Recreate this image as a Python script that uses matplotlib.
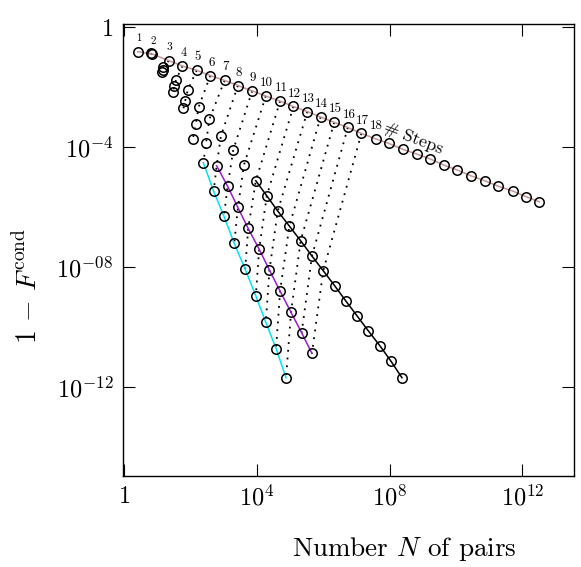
import matplotlib
matplotlib.use("Agg")
import matplotlib.pyplot as plt
import numpy as np

plt.rcParams["font.family"] = "serif"
plt.rcParams["font.serif"] = ["cmr10"]
plt.rcParams["mathtext.fontset"] = "cm"
plt.rcParams["axes.unicode_minus"] = False

# values, as log10 of N and log10 of 1-F
top_steps = list(range(1, 31))
top_logN = [0.41, 0.85, 1.35, 1.76, 2.19, 2.60, 3.03, 3.43, 3.86, 4.27,
            4.70, 5.10, 5.52, 5.92, 6.33, 6.74, 7.15, 7.58, 7.97, 8.40,
            8.82, 9.22, 9.64, 10.04, 10.44, 10.87, 11.27, 11.70, 12.11, 12.51]
top_logY = [-0.82, -0.90, -1.12, -1.30, -1.44, -1.62, -1.78, -1.95, -2.13, -2.30,
            -2.47, -2.65, -2.82, -3.00, -3.18, -3.35, -3.55, -3.73, -3.88, -4.08,
            -4.24, -4.40, -4.61, -4.77, -4.96, -5.13, -5.31, -5.47, -5.66, -5.83]

# black series, steps 2..24
blk_steps = list(range(2, 25))
blk_logN = [0.80, 1.18, 1.57, 1.92, 2.25, 2.57, 2.92, 3.29, 3.61, 3.97, 4.30, 4.63,
            4.98, 5.32, 5.66, 6.00, 6.35, 6.68, 7.02, 7.36, 7.71, 8.04, 8.37]
blk_logY = [-0.88, -1.33, -1.75, -2.10, -2.66, -3.08, -3.63, -4.10, -4.61, -5.13, -5.63, -6.14,
            -6.64, -7.13, -7.64, -8.13, -8.64, -9.14, -9.64, -10.14, -10.64, -11.15, -11.70]

# purple series, steps 3..17
pur_steps = list(range(3, 18))
pur_logN = [1.17, 1.52, 1.84, 2.16, 2.47, 2.79, 3.12, 3.43, 3.74, 4.07, 4.38,
            4.70, 5.03, 5.35, 5.66]
pur_logY = [-1.42, -1.96, -2.47, -3.25, -3.88, -4.63, -5.31, -6.02, -6.72, -7.41, -8.11,
            -8.81, -9.52, -10.20, -10.89]

# cyan series, steps 3..15
cyn_steps = list(range(3, 16))
cyn_logN = [1.15, 1.47, 1.79, 2.07, 2.39, 2.70, 3.01, 3.32, 3.65, 3.97, 4.27, 4.58, 4.88]
cyn_logY = [-1.50, -2.16, -2.71, -3.75, -4.53, -5.48, -6.31, -7.22, -8.08, -8.97, -9.85,
            -10.73, -11.70]

labelled_steps = list(range(1, 19))
dotted_steps = list(range(2, 18))

xticks = [1, 1e4, 1e8, 1e12]
xticklabels = ["$1$", "$10^{4}$", "$10^{8}$", "$10^{12}$"]
yticks = [1, 1e-4, 1e-8, 1e-12]
yticklabels = ["$1$", "$10^{-4}$", "$10^{-08}$", "$10^{-12}$"]


def to_xy(steps, logN, logY):
    return dict(zip(steps, zip(10 ** np.array(logN), 10 ** np.array(logY))))


top = to_xy(top_steps, top_logN, top_logY)
blk = to_xy(blk_steps, blk_logN, blk_logY)
pur = to_xy(pur_steps, pur_logN, pur_logY)
cyn = to_xy(cyn_steps, cyn_logN, cyn_logY)

fig = plt.figure(figsize=(5.81, 5.67), dpi=100)
ax = fig.add_axes([0.2117, 0.161, 0.7762, 0.796])
ax.set_xscale("log")
ax.set_yscale("log")

# dotted lines joining equal step counts
for k in dotted_steps:
    pts = [d[k] for d in (top, blk, pur, cyn) if k in d]
    ax.plot([p[0] for p in pts], [p[1] for p in pts], color="black",
            lw=1.3, ls=(0, (1.0, 3.3)), zorder=1)

mk = dict(marker="o", ms=6.8, mfc="none", mec="black", mew=1.1, ls="none", zorder=3)


def draw(d, start, color):
    ks = sorted(d)
    xs = np.array([d[k][0] for k in ks])
    ys = np.array([d[k][1] for k in ks])
    sel = np.array(ks) >= start
    ax.plot(xs[sel], ys[sel], color=color, lw=1.1, zorder=2)
    ax.plot(xs, ys, **mk)


draw(top, 1, "#c49696")
draw(cyn, 7, "#00e5ee")
draw(pur, 8, "#9a1ad6")
draw(blk, 11, "black")

for k in labelled_steps:
    fs = min(9.4, 7.2 + 0.4 * k)
    ax.annotate(str(k), top[k], xytext=(1, 13), textcoords="offset pixels",
                ha="center", va="center", fontsize=fs)

ax.text(10 ** 8.7, 10 ** -3.72, r"$\#\ \mathrm{Steps}$", rotation=-21,
        ha="center", va="center", fontsize=13)

ax.set_xlim(10 ** -0.03, 10 ** 13.55)
ax.set_ylim(10 ** -14.97, 10 ** 0.09)
ax.set_xticks(xticks)
ax.set_xticklabels(xticklabels)
ax.set_yticks(yticks)
ax.set_yticklabels(yticklabels)
ax.minorticks_off()
ax.tick_params(direction="in", length=8.6, width=0.8, top=True, right=True,
               labelsize=17.5, pad=7)
for s in ax.spines.values():
    s.set_linewidth(1.0)

ax.set_xlabel(r"Number $N$ of pairs", fontsize=19.5)
ax.xaxis.set_label_coords(0.623, -0.132)
ax.set_ylabel(r"$1\,-\,F^{\mathrm{cond}}$", fontsize=20)
ax.yaxis.set_label_coords(-0.178, 0.42)

fig.savefig("out.png", dpi=100)
